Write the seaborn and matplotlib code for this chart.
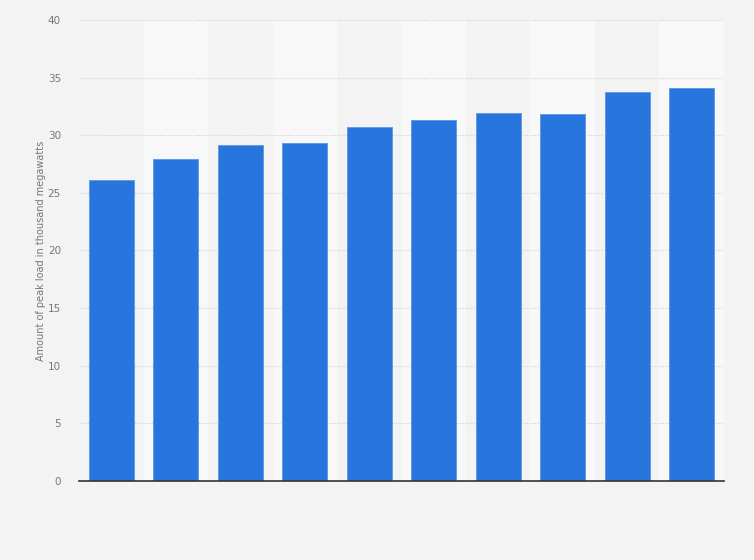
import numpy as np
import pandas as pd
import matplotlib
matplotlib.use("Agg")
import matplotlib.pyplot as plt
import seaborn as sns

# valores (miles de megavatios)
categorias = ["1", "2", "3", "4", "5", "6", "7", "8", "9", "10"]
valores = [26.13, 27.96, 29.17, 29.35, 30.72, 31.34, 31.95, 31.86, 33.77, 34.08]
ticks_y = [0, 5, 10, 15, 20, 25, 30, 35, 40]

sns.set_style("white")
plt.rcParams['font.family'] = ['DejaVu Sans']

df = pd.DataFrame({"categoria": categorias, "valor": valores})

fig = plt.figure(figsize=(7.54, 5.6), dpi=100)
fig.patch.set_facecolor("#f3f3f3")
ax = fig.add_axes([0.1048, 0.1411, 0.8554, 0.8232])
ax.set_facecolor("#f3f3f3")

# bandas alternas de fondo
for i in range(len(categorias)):
    if i % 2 == 1:
        ax.axvspan(i - 0.5, i + 0.5, color="#f8f8f8", zorder=0, lw=0)

sns.barplot(data=df, x="categoria", y="valor", color="#2876dd", width=0.7,
            saturation=1, edgecolor="#5a97e6", linewidth=0.6, ax=ax, zorder=3)

ax.set_xlim(-0.5, len(categorias) - 0.5)
ax.set_ylim(0, 40)
ax.set_yticks(ticks_y)
ax.yaxis.grid(True, linestyle=(0, (1, 1.5)), color="#cfcfcf", linewidth=0.8, zorder=1)
ax.set_axisbelow(True)

ax.set_xticks(range(len(categorias)))
ax.set_xticklabels([""] * len(categorias))
ax.tick_params(axis="x", length=0)
ax.tick_params(axis="y", length=0, labelsize=7.5, labelcolor="#777777", pad=13)

ax.set_xlabel("")
ax.set_ylabel("Amount of peak load in thousand megawatts", fontsize=7, color="#777777", labelpad=1)

for lado in ["top", "right", "left"]:
    ax.spines[lado].set_visible(False)
ax.spines["bottom"].set_color("#333333")
ax.spines["bottom"].set_linewidth(1.2)
ax.spines["bottom"].set_zorder(4)

plt.savefig("out.png", dpi=100, facecolor=fig.get_facecolor())
